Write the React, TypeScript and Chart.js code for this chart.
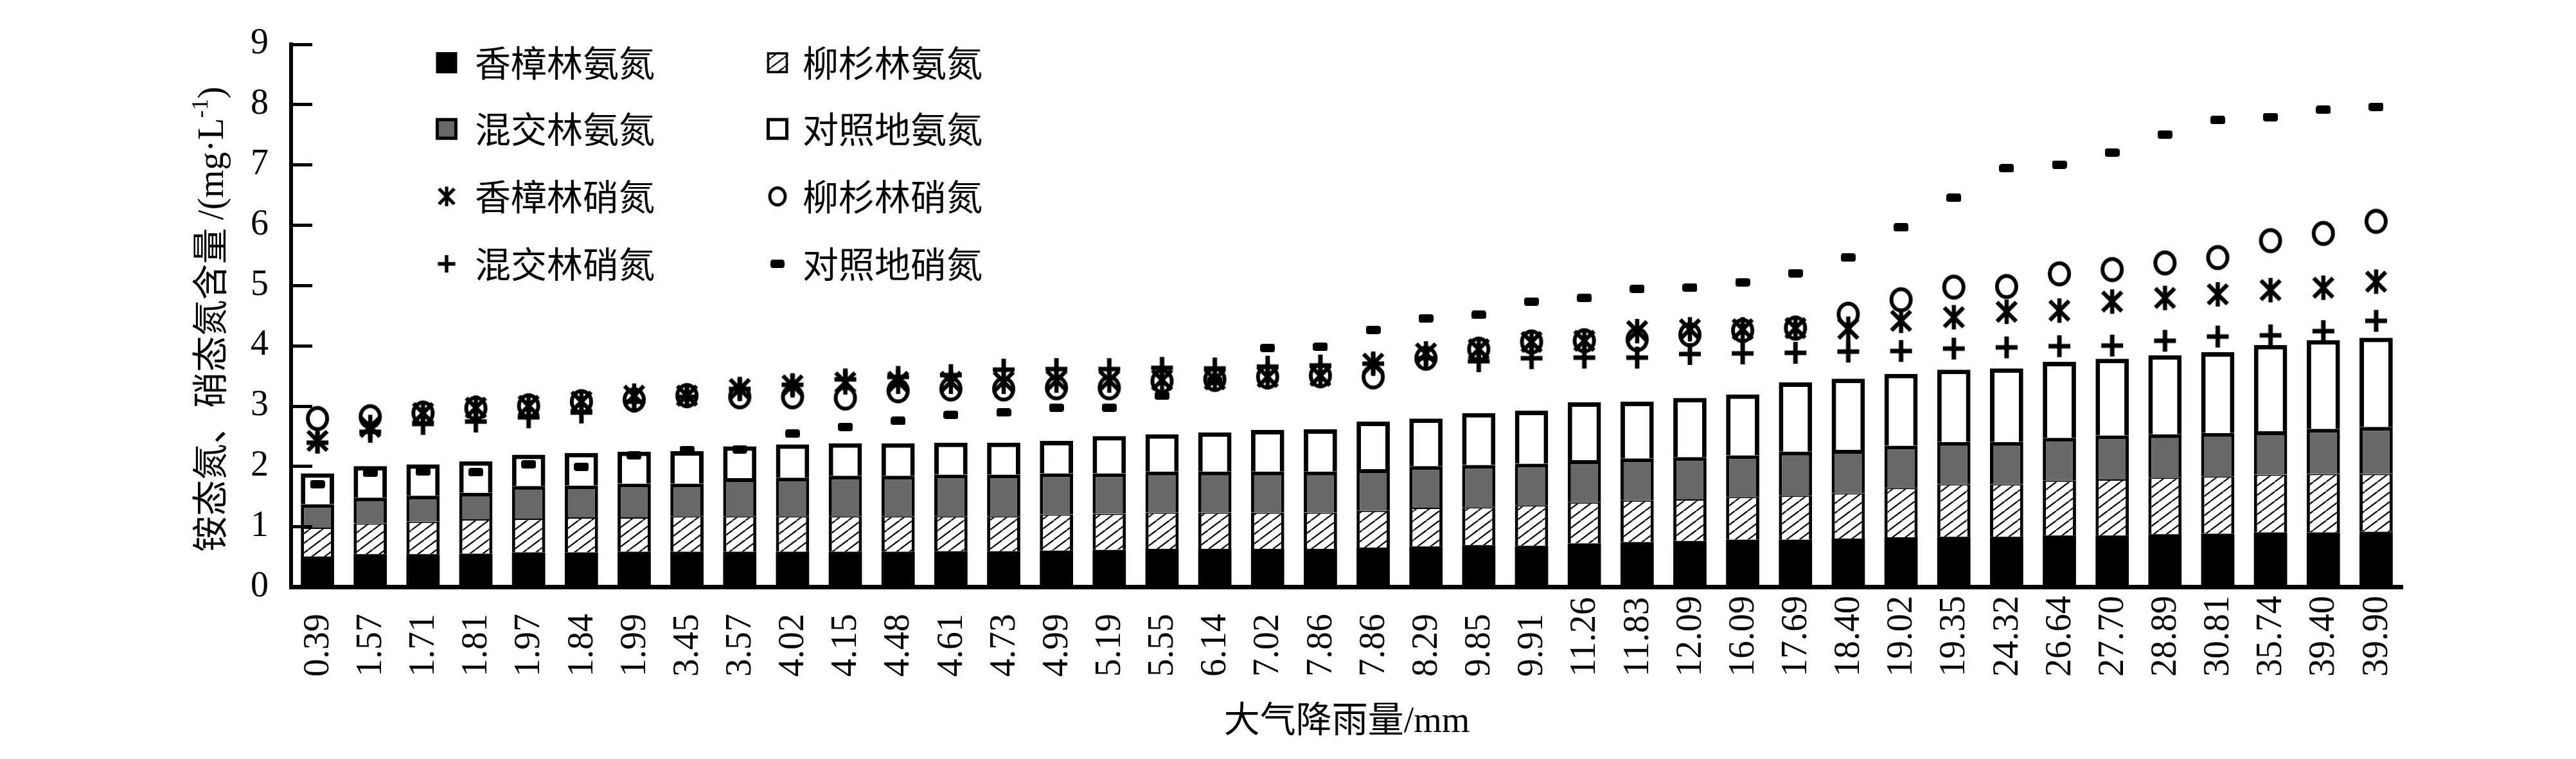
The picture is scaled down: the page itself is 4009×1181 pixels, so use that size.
import React, { useEffect, useRef } from 'react';
import { Chart, registerables } from 'chart.js';

Chart.register(...registerables);

// ---------------- data ----------------
const rainfall = [
  '0.39', '1.57', '1.71', '1.81', '1.97', '1.84', '1.99', '3.45', '3.57', '4.02',
  '4.15', '4.48', '4.61', '4.73', '4.99', '5.19', '5.55', '6.14', '7.02', '7.86',
  '7.86', '8.29', '9.85', '9.91', '11.26', '11.83', '12.09', '16.09', '17.69', '18.40',
  '19.02', '19.35', '24.32', '26.64', '27.70', '28.89', '30.81', '35.74', '39.40', '39.90',
];

// ammonium nitrogen (stacked bars)
const camphorNH4 = [
  0.50, 0.54, 0.54, 0.55, 0.57, 0.57, 0.58, 0.58, 0.58, 0.58,
  0.58, 0.58, 0.59, 0.59, 0.60, 0.61, 0.63, 0.63, 0.63, 0.63,
  0.65, 0.67, 0.69, 0.68, 0.72, 0.74, 0.76, 0.78, 0.78, 0.80,
  0.82, 0.83, 0.83, 0.85, 0.85, 0.87, 0.88, 0.90, 0.90, 0.91,
];
const cedarNH4 = [
  0.48, 0.51, 0.54, 0.57, 0.56, 0.58, 0.57, 0.59, 0.59, 0.59,
  0.59, 0.59, 0.58, 0.58, 0.60, 0.60, 0.60, 0.60, 0.60, 0.60,
  0.61, 0.64, 0.63, 0.67, 0.68, 0.69, 0.69, 0.71, 0.73, 0.75,
  0.82, 0.87, 0.87, 0.91, 0.93, 0.94, 0.95, 0.96, 0.97, 0.96,
];
const mixedNH4 = [
  0.39, 0.43, 0.43, 0.44, 0.54, 0.53, 0.56, 0.54, 0.63, 0.64,
  0.67, 0.67, 0.69, 0.69, 0.68, 0.67, 0.68, 0.68, 0.68, 0.68,
  0.69, 0.69, 0.70, 0.69, 0.70, 0.70, 0.70, 0.69, 0.73, 0.72,
  0.70, 0.70, 0.70, 0.71, 0.73, 0.72, 0.72, 0.72, 0.75, 0.78,
];
const controlNH4 = [
  0.51, 0.52, 0.52, 0.52, 0.52, 0.54, 0.53, 0.54, 0.53, 0.55,
  0.54, 0.54, 0.53, 0.53, 0.54, 0.62, 0.62, 0.65, 0.69, 0.70,
  0.79, 0.79, 0.86, 0.88, 0.96, 0.94, 0.98, 1.01, 1.15, 1.18,
  1.19, 1.20, 1.22, 1.26, 1.27, 1.31, 1.34, 1.43, 1.47, 1.48,
];

// nitrate nitrogen (markers)
const camphorNO3 = [
  2.42, 2.65, 2.88, 2.97, 3.00, 3.07, 3.17, 3.17, 3.28, 3.34,
  3.39, 3.40, 3.40, 3.40, 3.42, 3.42, 3.43, 3.44, 3.48, 3.50,
  3.70, 3.87, 3.94, 4.06, 4.08, 4.24, 4.27, 4.27, 4.29, 4.28,
  4.41, 4.47, 4.56, 4.58, 4.73, 4.79, 4.85, 4.92, 4.96, 5.06,
];
const cedarNO3 = [
  2.79, 2.82, 2.88, 2.96, 3.00, 3.07, 3.10, 3.17, 3.15, 3.15,
  3.13, 3.25, 3.28, 3.28, 3.30, 3.30, 3.41, 3.44, 3.48, 3.50,
  3.48, 3.79, 3.94, 4.06, 4.08, 4.10, 4.18, 4.25, 4.29, 4.52,
  4.76, 4.97, 4.98, 5.19, 5.26, 5.37, 5.46, 5.74, 5.86, 6.06,
];
const mixedNO3 = [
  2.39, 2.57, 2.70, 2.74, 2.81, 2.89, 3.07, 3.15, 3.28, 3.35,
  3.44, 3.48, 3.51, 3.60, 3.61, 3.61, 3.63, 3.62, 3.65, 3.67,
  3.70, 3.79, 3.74, 3.79, 3.80, 3.80, 3.86, 3.87, 3.88, 3.90,
  3.91, 3.95, 3.97, 3.99, 4.00, 4.08, 4.15, 4.17, 4.24, 4.41,
];
const controlNO3 = [
  1.70, 1.89, 1.91, 1.90, 2.03, 1.99, 2.18, 2.27, 2.28, 2.54,
  2.65, 2.75, 2.85, 2.89, 2.97, 2.97, 3.17, 3.42, 3.96, 3.98,
  4.26, 4.45, 4.51, 4.73, 4.79, 4.94, 4.96, 5.05, 5.20, 5.46,
  5.96, 6.45, 6.94, 7.00, 7.20, 7.50, 7.74, 7.79, 7.91, 7.96,
];

const seriesNames = [
  '香樟林氨氮', '柳杉林氨氮', '混交林氨氮', '对照地氨氮',
  '香樟林硝氮', '柳杉林硝氮', '混交林硝氮', '对照地硝氮',
];

const yMin = 0;
const yMax = 9;
const yStep = 1;

const yTitleCJK = '铵态氮、硝态氮含量 ';
const yTitleUnit = '/(mg·L';
const yTitleSup = '-1';
const yTitleEnd = ')';
const xTitleCJK = '大气降雨量';
const xTitleUnit = '/mm';

// ---------------- styling ----------------
const SERIF = '"Liberation Serif", "Times New Roman", serif';
const CJK = '"Noto Sans CJK SC", "Noto Sans", sans-serif';

function makeCanvas(w: number, h: number, draw: (c: CanvasRenderingContext2D) => void) {
  const c = document.createElement('canvas');
  c.width = w;
  c.height = h;
  const ctx = c.getContext('2d')!;
  draw(ctx);
  return c;
}

function hatchTile() {
  const W = 20, H = 15;
  return makeCanvas(W, H, (c) => {
    c.fillStyle = '#ffffff';
    c.fillRect(0, 0, W, H);
    c.strokeStyle = '#000000';
    c.lineWidth = 2.2;
    for (const dx of [-W, 0, W]) {
      c.beginPath();
      c.moveTo(dx, H);
      c.lineTo(dx + W, 0);
      c.stroke();
    }
  });
}

function asteriskMarker() {
  return makeCanvas(38, 40, (c) => {
    c.strokeStyle = '#000';
    c.lineWidth = 6.5;
    c.beginPath();
    c.moveTo(19, 1); c.lineTo(19, 39);
    c.moveTo(4, 5); c.lineTo(34, 35);
    c.moveTo(34, 5); c.lineTo(4, 35);
    c.stroke();
  });
}

function circleMarker() {
  return makeCanvas(42, 44, (c) => {
    c.strokeStyle = '#000';
    c.lineWidth = 6;
    c.beginPath();
    c.ellipse(21, 22, 15, 16.5, 0, 0, Math.PI * 2);
    c.stroke();
  });
}

function plusMarker() {
  return makeCanvas(36, 36, (c) => {
    c.strokeStyle = '#000';
    c.lineWidth = 7;
    c.beginPath();
    c.moveTo(18, 1); c.lineTo(18, 35);
    c.moveTo(1, 18); c.lineTo(35, 18);
    c.stroke();
  });
}

function dashMarker() {
  return makeCanvas(23, 13, (c) => {
    c.fillStyle = '#000';
    c.beginPath();
    (c as any).roundRect(0, 0, 23, 13, 4);
    c.fill();
  });
}

export default function App() {
  const ref = useRef<HTMLCanvasElement>(null);

  useEffect(() => {
    document.body.style.margin = '0';
    const canvas = ref.current!;
    const ctx0 = canvas.getContext('2d')!;
    const hatch = ctx0.createPattern(hatchTile(), 'repeat')!;
    const markerImgs = [asteriskMarker(), circleMarker(), plusMarker(), dashMarker()];

    const barSeries = [camphorNH4, cedarNH4, mixedNH4, controlNH4];
    const barFills: any[] = ['#000000', hatch, '#686868', '#ffffff'];
    const barBorders = [
      { top: 0, left: 0, right: 0, bottom: 0 },
      { top: 2, left: 5, right: 5, bottom: 0 },
      { top: 6, left: 5, right: 5, bottom: 0 },
      { top: 7, left: 7, right: 7, bottom: 0 },
    ];
    const pointSeries = [camphorNO3, cedarNO3, mixedNO3, controlNO3];

    const datasets: any[] = [];
    barSeries.forEach((d, i) => {
      datasets.push({
        type: 'bar',
        label: seriesNames[i],
        data: d,
        backgroundColor: barFills[i],
        borderColor: '#000000',
        borderWidth: barBorders[i],
        stack: 'nh4',
        yAxisID: 'y',
        order: 2,
        barPercentage: 0.63,
        categoryPercentage: 1,
      });
    });
    pointSeries.forEach((d, i) => {
      datasets.push({
        type: 'line',
        label: seriesNames[4 + i],
        data: d,
        showLine: false,
        pointStyle: markerImgs[i],
        pointRadius: 10,
        pointHoverRadius: 10,
        borderColor: '#000',
        backgroundColor: '#000',
        yAxisID: 'y2',
        order: 0,
      });
    });

    const decor = {
      id: 'decor',
      afterDatasetsDraw(chart: any) {
        const { ctx, chartArea, scales } = chart;
        const xs = scales.x;
        const ys = scales.y;
        ctx.save();

        // inward tick marks on the y axis
        ctx.strokeStyle = '#000';
        ctx.lineWidth = 5;
        ys.ticks.forEach((_t: any, i: number) => {
          const py = Math.round(ys.getPixelForTick(i)) + 0.5;
          ctx.beginPath();
          ctx.moveTo(chartArea.left, py);
          ctx.lineTo(chartArea.left + 33, py);
          ctx.stroke();
        });

        // x tick labels, rotated, anchored at their start
        ctx.fillStyle = '#000';
        ctx.font = `56px ${SERIF}`;
        ctx.textAlign = 'left';
        ctx.textBaseline = 'middle';
        rainfall.forEach((lab, i) => {
          const px = xs.getPixelForTick(i);
          ctx.save();
          ctx.translate(px + 2, chartArea.bottom + 140);
          ctx.rotate(-Math.PI / 2);
          ctx.fillText(lab, 0, 0);
          ctx.restore();
        });

        // y title (rotated)
        const segs = [
          { t: yTitleCJK, f: `56px ${CJK}`, dy: 0 },
          { t: yTitleUnit, f: `56px ${SERIF}`, dy: 0 },
          { t: yTitleSup, f: `36px ${SERIF}`, dy: -24 },
          { t: yTitleEnd, f: `56px ${SERIF}`, dy: 0 },
        ];
        let total = 0;
        const widths = segs.map((s) => {
          ctx.font = s.f;
          const w = ctx.measureText(s.t).width;
          total += w;
          return w;
        });
        ctx.save();
        ctx.translate(327, (chartArea.top + chartArea.bottom) / 2 + 6);
        ctx.rotate(-Math.PI / 2);
        ctx.textBaseline = 'alphabetic';
        ctx.textAlign = 'left';
        let u = -total / 2;
        segs.forEach((s, i) => {
          ctx.font = s.f;
          ctx.fillText(s.t, u, 20 + s.dy);
          u += widths[i];
        });
        ctx.restore();

        // x title
        ctx.font = `56px ${CJK}`;
        const w1 = ctx.measureText(xTitleCJK).width;
        ctx.font = `56px ${SERIF}`;
        const w2 = ctx.measureText(xTitleUnit).width;
        const cx = (chartArea.left + chartArea.right) / 2;
        const sx = cx - (w1 + w2) / 2;
        const ty = chartArea.bottom + 226;
        ctx.textAlign = 'left';
        ctx.textBaseline = 'alphabetic';
        ctx.font = `56px ${CJK}`;
        ctx.fillText(xTitleCJK, sx, ty);
        ctx.font = `56px ${SERIF}`;
        ctx.fillText(xTitleUnit, sx + w1, ty);

        // legend: two columns, four rows, inside the plot
        const colMarker = [242, 757];
        const colText = [286, 796];
        const rowY = [29, 132, 237, 342];
        ctx.textBaseline = 'alphabetic';
        chart.data.datasets.forEach((ds: any, i: number) => {
          const col = i % 2;
          const row = Math.floor(i / 2);
          const mx = chartArea.left + colMarker[col];
          const my = chartArea.top + rowY[row];
          if (ds.type === 'bar') {
            const s = 33;
            ctx.fillStyle = ds.backgroundColor;
            ctx.fillRect(mx - s / 2, my - s / 2, s, s);
            if (i !== 0) {
              ctx.strokeStyle = '#000';
              ctx.lineWidth = i === 1 ? 3.5 : 5;
              ctx.strokeRect(mx - s / 2 + 2, my - s / 2 + 2, s - 4, s - 4);
            }
          } else {
            const img = ds.pointStyle as HTMLCanvasElement;
            const k = i === 7 ? 0.95 : 0.8;
            const w = img.width * k;
            const h = img.height * k;
            ctx.drawImage(img, mx - w / 2, my - h / 2, w, h);
          }
          ctx.fillStyle = '#000';
          ctx.font = `56px ${CJK}`;
          ctx.fillText(ds.label, chartArea.left + colText[col], my + 21);
        });

        ctx.restore();
      },
    };

    const chart = new Chart(canvas, {
      type: 'bar',
      data: { labels: rainfall, datasets },
      options: {
        animation: false,
        responsive: false,
        devicePixelRatio: 1,
        layout: { autoPadding: false, padding: { left: 0, right: 270, top: 46, bottom: 0 } },
        plugins: {
          legend: { display: false },
          tooltip: { enabled: false },
          title: { display: false },
        },
        scales: {
          x: {
            stacked: true,
            offset: true,
            grid: { display: false, drawTicks: false },
            border: { display: true, color: '#000', width: 7 },
            ticks: { display: false },
            afterFit: (s: any) => { s.height = 268; },
          },
          y: {
            stacked: true,
            min: yMin,
            max: yMax,
            ticks: {
              stepSize: yStep,
              color: '#000',
              font: { family: SERIF, size: 56 },
              padding: 35,
            },
            grid: { display: false, drawTicks: false },
            border: { display: true, color: '#000', width: 6 },
            afterFit: (s: any) => { s.width = 453; },
          },
          y2: {
            display: false,
            stacked: false,
            min: yMin,
            max: yMax,
          },
        },
      } as any,
      plugins: [decor],
    } as any);

    return () => chart.destroy();
  }, []);

  return (
    <div style={{ width: 4009, height: 1181 }}>
      <canvas ref={ref} width={4009} height={1181} style={{ display: 'block', width: 4009, height: 1181 }} />
    </div>
  );
}
